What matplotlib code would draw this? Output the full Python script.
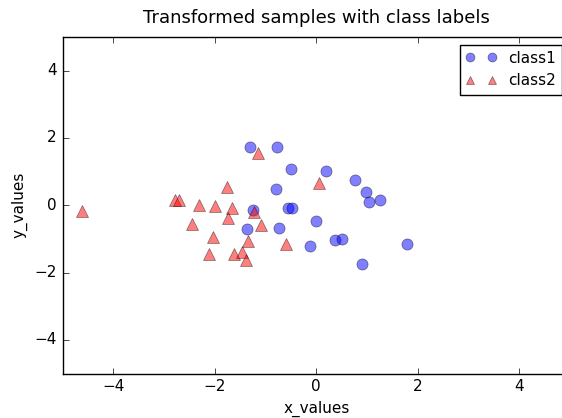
import matplotlib
matplotlib.use('Agg')
import matplotlib.pyplot as plt

plt.style.use('classic')
plt.rcParams['font.family'] = ['DejaVu Sans']

# class 1 (blue circles)
x_class1 = [-1.30, -0.77, -0.49, 0.19, -0.79, 0.77, 0.98, 1.03, 1.26, -1.25,
            -0.55, -0.47, -0.01, -1.37, -0.73, -0.13, 0.37, 0.50, 1.78, 0.91]
y_class1 = [1.74, 1.74, 1.07, 1.02, 0.48, 0.75, 0.40, 0.10, 0.17, -0.13,
            -0.07, -0.09, -0.46, -0.71, -0.67, -1.22, -1.03, -0.99, -1.16, -1.74]

# class 2 (red triangles)
x_class2 = [-4.61, -2.78, -2.70, -2.32, -1.99, -1.75, -1.66, -1.73, -2.44, -2.03,
            -2.11, -1.63, -1.46, -1.39, -1.35, -1.15, -1.22, -1.08, -0.59, 0.05]
y_class2 = [-0.16, 0.15, 0.15, 0.01, -0.02, 0.55, -0.09, -0.39, -0.57, -0.93,
            -1.45, -1.46, -1.38, -1.62, -1.05, 1.54, -0.19, -0.59, -1.16, 0.65]

fig = plt.figure(figsize=(5.62, 4.18), dpi=100, facecolor='white')
# the original figure was cut at the right, so the axes run past the edge
ax = fig.add_axes([62.5/562, 44.4/418, 507.5/562, 336.6/418])
ax.set_facecolor('white')

ax.plot(x_class1, y_class1, 'o', color='blue', alpha=0.5, markersize=8,
        markeredgecolor='k', markeredgewidth=0.5, label='class1')
ax.plot(x_class2, y_class2, '^', color='red', alpha=0.5, markersize=8,
        markeredgecolor='k', markeredgewidth=0.5, label='class2')

ax.set_xlim(-5, 5)
ax.set_ylim(-5, 5)
ax.set_xticks([-4, -2, 0, 2, 4])
ax.set_yticks([-4, -2, 0, 2, 4])
ax.tick_params(labelsize=11)

ax.set_title('Transformed samples with class labels', fontsize=13, pad=10)
ax.set_xlabel('x_values', fontsize=11)
ax.set_ylabel('y_values', fontsize=11)

ax.legend(loc='upper right', numpoints=2, fontsize=11, fancybox=False,
          markerscale=0.8)

fig.savefig('out.png', dpi=100, facecolor='white')
